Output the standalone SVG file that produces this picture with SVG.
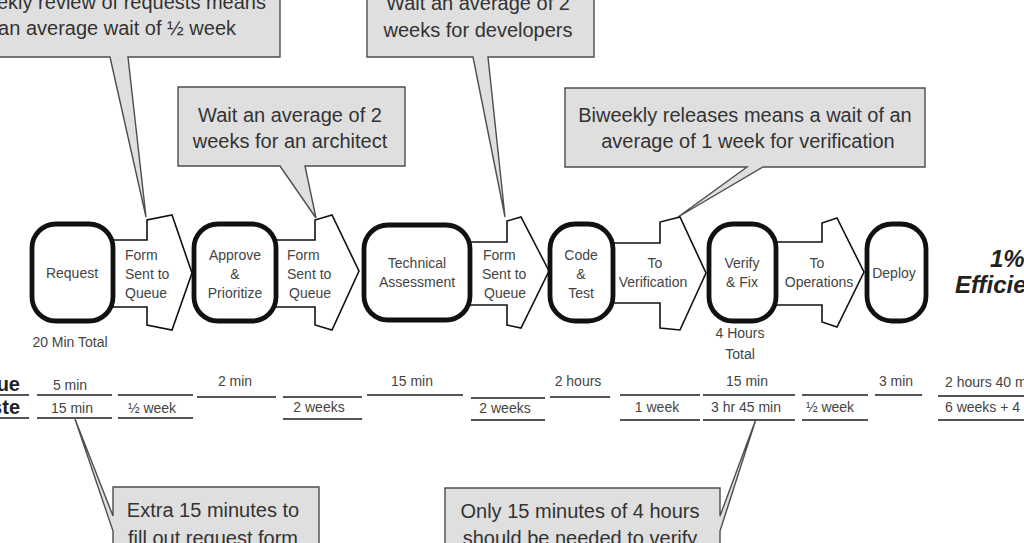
<svg xmlns="http://www.w3.org/2000/svg" width="1024" height="543" viewBox="0 0 1024 543">
<style>
text{font-family:"Liberation Sans",Arial,Helvetica,sans-serif}
.box{fill:#fff;stroke:#111;stroke-width:4.8}
.arrow{fill:#fff;stroke:#111;stroke-width:1.6;stroke-linejoin:miter}
.callout{fill:#dfdfdf;stroke:#4d4d4d;stroke-width:1.4;stroke-linejoin:miter}
.t{font-size:14px;fill:#444}
.m{text-anchor:middle}
.c{font-size:20px;fill:#333;text-anchor:middle}
.tl line{stroke:#555;stroke-width:2}
.big{font-size:24px;font-weight:bold;font-style:italic;fill:#222}
.lbl{font-size:20px;font-weight:bold;fill:#222;text-anchor:end}
</style>
<rect width="1024" height="543" fill="#fff"/>

<!-- callouts -->
<g id="callout-review">
<path class="callout" d="M-5,-5 H280 V57 H128 L146,217 L110,57 H-5 Z"/>
<text class="c" style="text-anchor:end" x="266" y="9">ekly review of requests means</text>
<text class="c" style="text-anchor:end" x="236" y="35">an average wait of ½ week</text>
</g>
<g id="callout-architect">
<path class="callout" d="M178,87 H405 V166 H305 L316,218 L280,166 H178 Z"/>
<text class="c" x="290" y="122">Wait an average of 2</text>
<text class="c" x="290" y="148">weeks for an architect</text>
</g>
<g id="callout-developers">
<path class="callout" d="M367,-5 H594 V57 H488 L505,217 L473,57 H367 Z"/>
<text class="c" x="478" y="10">Wait an average of 2</text>
<text class="c" x="478" y="37">weeks for developers</text>
</g>
<g id="callout-verification">
<path class="callout" d="M565,88 H925 V167 H763 L678,217 L747,167 H565 Z"/>
<text class="c" x="745" y="122">Biweekly releases means a wait of an</text>
<text class="c" x="748" y="148">average of 1 week for verification</text>
</g>

<!-- block arrows (connectors) -->
<g id="connectors">
<polygon class="arrow" points="113,240 147,240 147,220 172,215 192,273 172,330 147,325 147,307 113,307"/>
<polygon class="arrow" points="276,240 315,240 315,220 332,215 359,271 332,330 315,325 315,307 276,307"/>
<polygon class="arrow" points="470,242 507,242 507,221 521,217 549,271 521,328 507,325 507,305 470,305"/>
<polygon class="arrow" points="613,243 660,243 660,222 680,217 706,273 680,330 660,328 660,303 613,303"/>
<polygon class="arrow" points="776,242 822,242 822,223 837,218 864,272 837,327 822,322 822,305 776,305"/>
<g class="t">
<text x="125" y="260">Form</text><text x="125" y="279">Sent to</text><text x="125" y="298">Queue</text>
<text x="287" y="260">Form</text><text x="287" y="279">Sent to</text><text x="289" y="298">Queue</text>
<text x="483" y="260">Form</text><text x="482" y="279">Sent to</text><text x="484" y="298">Queue</text>
<text class="m" x="655" y="268">To</text><text class="m" x="653" y="287">Verification</text>
<text class="m" x="817" y="268">To</text><text class="m" x="819" y="287">Operations</text>
</g>
</g>

<!-- process boxes -->
<g id="node-request">
<rect class="box" x="32" y="224" width="81" height="97" rx="24"/>
<text class="t m" x="72" y="278">Request</text>
<text class="t m" x="70" y="347">20 Min Total</text>
</g>
<g id="node-approve">
<rect class="box" x="194" y="224" width="82" height="97" rx="24"/>
<text class="t m" x="235" y="260">Approve</text>
<text class="t m" x="235" y="279">&amp;</text>
<text class="t m" x="235" y="298">Prioritize</text>
</g>
<g id="node-technical">
<rect class="box" x="364" y="225" width="106" height="95" rx="24"/>
<text class="t m" x="417" y="268">Technical</text>
<text class="t m" x="417" y="287">Assessment</text>
</g>
<g id="node-code">
<rect class="box" x="550" y="224" width="63" height="97" rx="25"/>
<text class="t m" x="581" y="260">Code</text>
<text class="t m" x="581" y="279">&amp;</text>
<text class="t m" x="581" y="298">Test</text>
</g>
<g id="node-verify">
<rect class="box" x="709" y="224" width="67" height="97" rx="24"/>
<text class="t m" x="742" y="268">Verify</text>
<text class="t m" x="742" y="287">&amp; Fix</text>
<text class="t m" x="740" y="338">4 Hours</text>
<text class="t m" x="740" y="359">Total</text>
</g>
<g id="node-deploy">
<rect class="box" x="867" y="224" width="59" height="97" rx="25"/>
<text class="t m" x="894" y="278">Deploy</text>
</g>

<g id="efficiency">
<text class="big" x="990" y="267">1%</text>
<text class="big" x="955" y="293">Efficie</text>
</g>

<!-- timeline -->
<g id="timeline" class="tl">
<text class="lbl" x="20" y="391">ue</text>
<text class="lbl" x="20" y="414">ste</text>
<line x1="0" y1="395" x2="29" y2="395"/>
<line x1="0" y1="418" x2="29" y2="418"/>

<line x1="37" y1="395" x2="112" y2="395"/><line x1="37" y1="418" x2="112" y2="418"/>
<text class="t m" x="70" y="390">5 min</text><text class="t m" x="72" y="413">15 min</text>

<line x1="118" y1="395" x2="193" y2="395"/><line x1="118" y1="418" x2="193" y2="418"/>
<text class="t m" x="152" y="413">½ week</text>

<line x1="197" y1="397" x2="276" y2="397"/>
<text class="t m" x="235" y="386">2 min</text>

<line x1="283" y1="397" x2="362" y2="397"/><line x1="283" y1="419" x2="362" y2="419"/>
<text class="t m" x="319" y="412">2 weeks</text>

<line x1="367" y1="395" x2="463" y2="395"/>
<text class="t m" x="412" y="386">15 min</text>

<line x1="471" y1="398" x2="545" y2="398"/><line x1="471" y1="420" x2="545" y2="420"/>
<text class="t m" x="505" y="413">2 weeks</text>

<line x1="550" y1="397" x2="610" y2="397"/>
<text class="t m" x="578" y="386">2 hours</text>

<line x1="620" y1="395" x2="700" y2="395"/><line x1="620" y1="420" x2="700" y2="420"/>
<text class="t m" x="657" y="412">1 week</text>

<line x1="703" y1="395" x2="795" y2="395"/><line x1="703" y1="420" x2="795" y2="420"/>
<text class="t m" x="747" y="386">15 min</text><text class="t m" x="746" y="412">3 hr 45 min</text>

<line x1="802" y1="395" x2="868" y2="395"/><line x1="802" y1="420" x2="868" y2="420"/>
<text class="t m" x="830" y="412">½ week</text>

<line x1="875" y1="395" x2="922" y2="395"/>
<text class="t m" x="896" y="386">3 min</text>

<line x1="938" y1="396" x2="1024" y2="396"/><line x1="938" y1="420" x2="1024" y2="420"/>
<text class="t" x="945" y="387">2 hours 40 m</text>
<text class="t" x="945" y="412">6 weeks + 4</text>
</g>

<g id="callout-form">
<path class="callout" d="M113,487 H319 V560 H113 V531 L75,419 L113,516 Z"/>
<text class="c" x="213" y="517">Extra 15 minutes to</text>
<text class="c" x="213" y="545">fill out request form</text>
</g>
<g id="callout-verify">
<path class="callout" d="M445,488 H720 V516 L756,419 L720,531 V560 H445 Z"/>
<text class="c" x="580" y="518">Only 15 minutes of 4 hours</text>
<text class="c" x="580" y="545">should be needed to verify</text>
</g>
</svg>
